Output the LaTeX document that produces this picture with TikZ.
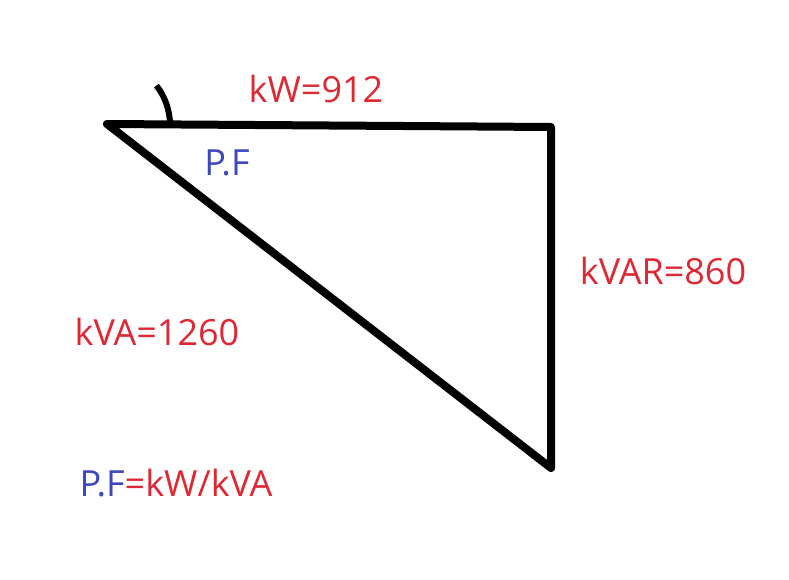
\documentclass[tikz,border=0pt]{standalone}
\usepackage{fontspec}
\setmainfont{Open Sans}
\definecolor{lblred}{RGB}{222,40,52}
\definecolor{lblblue}{RGB}{62,72,190}
\begin{document}
\begin{tikzpicture}[x=1pt,y=-1pt,
  lbl/.style={font=\fontsize{36}{40}\selectfont,inner sep=0pt},
  edge/.style={line width=8pt,line join=round,line cap=round}]
\useasboundingbox (0,0) rectangle (789,580);
\coordinate (A) at (107,124);
\coordinate (B) at (551,127);
\coordinate (C) at (551,468);
\draw[edge] (A) -- (B) -- (C) -- cycle;
\draw[line width=6pt] (170,125) arc[start angle=0,end angle=-38,radius=64];
\node[lbl,text=lblred] (kw) at (316,89) {kW=912};
\node[lbl,text=lblblue] (pf) at (227,163) {P.F};
\node[lbl,text=lblred] (kvar) at (663,271) {kVAR=860};
\node[lbl,text=lblred] (kva) at (157,332) {kVA=1260};
\node[lbl] (eq) at (176,483) {\textcolor{lblblue}{P.F}\textcolor{lblred}{=kW/kVA}};
\end{tikzpicture}
\end{document}
